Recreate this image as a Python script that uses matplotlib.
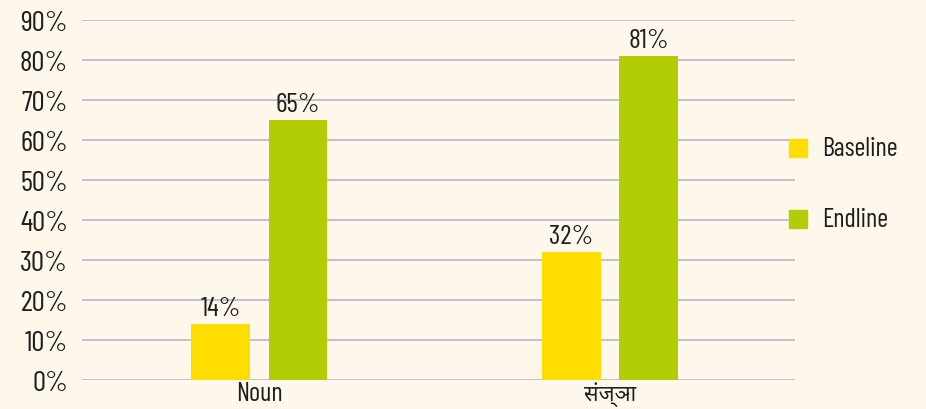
import matplotlib
matplotlib.use("Agg")
import matplotlib.pyplot as plt
from matplotlib.patches import Rectangle

categories = ["Noun", "संज्ञा"]
series = ["Baseline", "Endline"]
baseline = [14, 32]
endline = [65, 81]
yticks = [0, 10, 20, 30, 40, 50, 60, 70, 80, 90]

bg = "#FEF8EC"
c_base = "#FFDD00"
c_end = "#B2CC05"
txt = "#1E1E1E"

fam = ["Barlow Condensed", "Barlow Semi Condensed", "Roboto Condensed", "Archivo Narrow",
       "Noto Sans Devanagari", "DejaVu Sans"]
plt.rcParams['font.family'] = fam

fig = plt.figure(figsize=(9.26, 4.10), dpi=100, facecolor=bg)
ax = fig.add_axes([82/926, 29/410, (795-82)/926, 360/410], facecolor=bg)

x = list(range(len(categories)))
w = 0.168
off = 0.11
b1 = ax.bar([i - off for i in x], baseline, w, color=c_base, zorder=3)
b2 = ax.bar([i + off for i in x], endline, w, color=c_end, zorder=3)
for bars, vals in ((b1, baseline), (b2, endline)):
    for r, v in zip(bars, vals):
        ax.text(r.get_x() + r.get_width()/2, v + 0.9, f"{v}%", ha="center", va="bottom",
                fontsize=20, color=txt, zorder=4)

ax.set_xlim(-0.5064, 1.5278)
ax.set_ylim(0, 90)
ax.set_yticks(yticks)
ax.set_yticklabels([f"{t}%" for t in yticks], fontsize=21, color=txt)
ax.set_xticks(x)
ax.set_xticklabels(categories, fontsize=19, color=txt)
ax.get_xticklabels()[1].set_fontsize(15.5)
ax.tick_params(axis="both", length=0)
ax.tick_params(axis="y", pad=10)
ax.tick_params(axis="x", pad=1)
ax.yaxis.grid(True, color="#BDBDC8", linewidth=1.3, zorder=0)
for s in ax.spines.values():
    s.set_visible(False)

# legend (manual, right of plot)
W, H = 926, 410
for k, (name, col) in enumerate(zip(series, [c_base, c_end])):
    y0 = 140 + k * 71
    fig.add_artist(Rectangle((789/W, 1 - (y0 + 18)/H), 18/W, 18/H,
                             transform=fig.transFigure, color=col, zorder=5))
    fig.text(822/W, 1 - (y0 + 9)/H, name, fontsize=19, color=txt,
             ha="left", va="center")

fig.savefig("out.png", dpi=100, facecolor=bg)
